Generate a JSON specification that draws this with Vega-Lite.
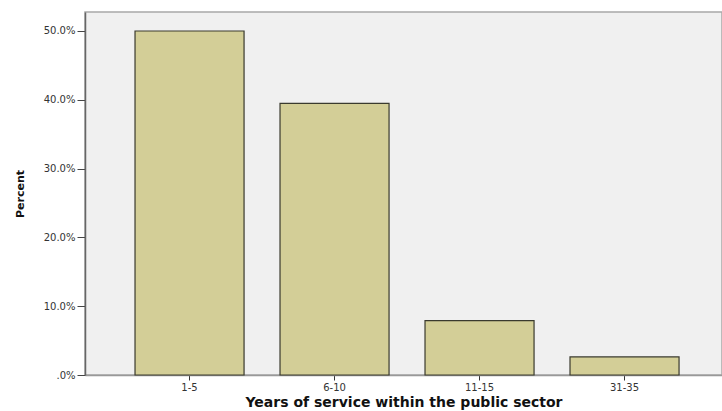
{
  "$schema": "https://vega.github.io/schema/vega-lite/v6.json",
  "width": 637,
  "height": 363,
  "autosize": {"type": "none"},
  "padding": {"left": 85, "top": 12, "right": 0, "bottom": 36},
  "background": "white",
  "config": {
    "view": {"fill": "#f0f0f0", "stroke": "#a8a8a8", "strokeWidth": 1.5},
    "font": "DejaVu Sans"
  },
  "data": {
    "values": [
      {"years": "1-5", "percent": 50.0},
      {"years": "6-10", "percent": 39.47},
      {"years": "11-15", "percent": 7.89},
      {"years": "31-35", "percent": 2.63}
    ]
  },
  "mark": {"type": "bar", "fill": "#d3ce97", "stroke": "#3a3a2e", "strokeWidth": 1.2},
  "encoding": {
    "x": {
      "field": "years",
      "type": "ordinal",
      "sort": null,
      "scale": {"paddingInner": 0.248, "paddingOuter": 0.3206, "align": 0.538},
      "axis": {
        "title": "Years of service within the public sector",
        "titleFont": "DejaVu Sans",
        "titleFontSize": 14,
        "titleFontWeight": "bold",
        "titleColor": "#111",
        "titlePadding": 3,
        "labelAngle": 0,
        "labelFont": "DejaVu Sans",
        "labelFontSize": 10,
        "labelColor": "#333",
        "labelPadding": 2,
        "tickSize": 5,
        "tickColor": "#333",
        "domainColor": "#999",
        "domainWidth": 1.5
      }
    },
    "y": {
      "field": "percent",
      "type": "quantitative",
      "scale": {"domain": [0, 52.76], "nice": false},
      "axis": {
        "title": "Percent",
        "titleFont": "DejaVu Sans",
        "titleFontSize": 11,
        "titleFontWeight": "bold",
        "titleColor": "#111",
        "titlePadding": 18,
        "values": [0, 10, 20, 30, 40, 50],
        "labelExpr": "datum.value == 0 ? '.0%' : format(datum.value, '.1f') + '%'",
        "labelFont": "DejaVu Sans",
        "labelFontSize": 10,
        "labelColor": "#333",
        "labelPadding": 2,
        "tickSize": 8,
        "tickColor": "#444",
        "domainColor": "#666",
        "domainWidth": 1.5,
        "grid": false
      }
    }
  }
}
